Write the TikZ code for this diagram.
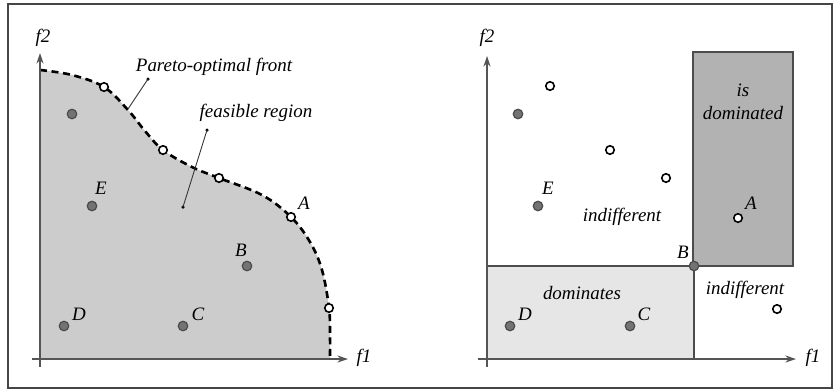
\documentclass[tikz,border=0pt]{standalone}
\usepackage{fontspec}
\setmainfont{Liberation Serif}
\usetikzlibrary{arrows.meta}
\definecolor{regiongray}{RGB}{204,204,204}
\definecolor{domgray}{RGB}{178,178,178}
\definecolor{lightdom}{RGB}{230,230,230}
\definecolor{dotgray}{RGB}{115,115,115}
\definecolor{axisgray}{RGB}{85,85,85}
\definecolor{framegray}{RGB}{70,70,70}
\newcommand{\frontpts}{(40,70) (72,75) (104,87) (128,110) (145,131) (163,150) (192,167) (219,178) (262,195) (291,217) (310,242) (322,270) (329,308) (330,335) (330,359)}

\begin{document}
\begin{tikzpicture}[x=0.02cm,y=-0.02cm,
  lbl/.style={font=\fontsize{10.8}{13}\selectfont\itshape,inner sep=0pt},
  axis/.style={draw=axisgray,line width=0.6pt,-{Stealth[length=6pt,width=4pt]}},
  front/.style={line width=1.5pt,dash pattern=on 4pt off 2.6pt},
  solpt/.style={circle,draw=black!70,fill=dotgray,line width=0.7pt,inner sep=0pt,minimum size=0.19cm},
  optpt/.style={circle,draw=black,fill=white,line width=0.9pt,inner sep=0pt,minimum size=0.17cm},
  tipdot/.style={circle,fill=black,inner sep=0pt,minimum size=0.07cm},
  ptr/.style={draw=black!80,line width=0.5pt}]

\useasboundingbox (0,0) rectangle (834,390);
\draw[framegray,line width=0.8pt] (8,4) rectangle (832,388);

% left panel: feasible region and front
\fill[regiongray] (40,359) -- plot[smooth,tension=0.6] coordinates {\frontpts} -- cycle;
\draw[front] plot[smooth,tension=0.6] coordinates {\frontpts};

\coordinate (lyb) at (40,367);
\coordinate (lyt) at (40,53);
\coordinate (lxb) at (32,359);
\coordinate (lxt) at (348,359);
\draw[axis] (lyb) -- (lyt);
\draw[axis] (lxb) -- (lxt);
\node[lbl] (lf2) at (43,38) {f2};
\node[lbl] (lf1) at (364,358) {f1};

\foreach \px/\py [count=\i] in {104/87,163/150,219/178,291/217,329/308}
  \node[optpt] (lopt\i) at (\px,\py) {};
\node[solpt] (lpt) at (72,114) {};
\node[solpt] (lE) at (92,206) {};
\node[solpt] (lB) at (247,266) {};
\node[solpt] (lD) at (64,326) {};
\node[solpt] (lC) at (183,326) {};
\node[lbl] (lEl) at (101,188) {E};
\node[lbl] (lBl) at (241,250) {B};
\node[lbl] (lDl) at (79,314) {D};
\node[lbl] (lCl) at (198,314) {C};
\node[lbl] (lAl) at (304,203) {A};

\node[lbl] (paretolbl) at (214,67) {Pareto-optimal front};
\node[tipdot] (pt1) at (148,79) {};
\coordinate (pt2) at (128,109);
\draw[ptr] (pt1.center) -- (pt2);
\node[lbl] (feaslbl) at (256,113) {feasible region};
\node[tipdot] (ft1) at (207,130) {};
\node[tipdot] (ft2) at (183,207) {};
\draw[ptr] (ft1.center) -- (ft2.center);

% right panel: dominance regions of B
\draw[fill=lightdom,draw=gray!60!black,line width=0.6pt] (487,266) rectangle (694,359);
\draw[fill=domgray,draw=gray!60!black,line width=0.6pt] (693,52) rectangle (793,266);

\coordinate (ryb) at (487,367);
\coordinate (ryt) at (487,56);
\coordinate (rxb) at (478,359);
\coordinate (rxt) at (796,359);
\draw[axis] (ryb) -- (ryt);
\draw[axis] (rxb) -- (rxt);
\node[lbl] (rf2) at (487,38) {f2};
\node[lbl] (rf1) at (813,358) {f1};

\foreach \px/\py [count=\i] in {550/86,610/150,666/178,738/218,777/309}
  \node[optpt] (ropt\i) at (\px,\py) {};
\node[solpt] (rpt) at (518,114) {};
\node[solpt] (rE) at (538,206) {};
\node[solpt] (rB) at (694,266) {};
\node[solpt] (rD) at (510,326) {};
\node[solpt] (rC) at (630,326) {};
\node[lbl] (rEl) at (548,188) {E};
\node[lbl] (rBl) at (683,252) {B};
\node[lbl] (rDl) at (525,314) {D};
\node[lbl] (rCl) at (644,314) {C};
\node[lbl] (rAl) at (751,203) {A};

\node[lbl,align=center] (isdom) at (743,102) {is\\dominated};
\node[lbl] (indiff1) at (622,217) {indifferent};
\node[lbl] (indiff2) at (745,290) {indifferent};
\node[lbl] (domlbl) at (582,293) {dominates};
\end{tikzpicture}
\end{document}
